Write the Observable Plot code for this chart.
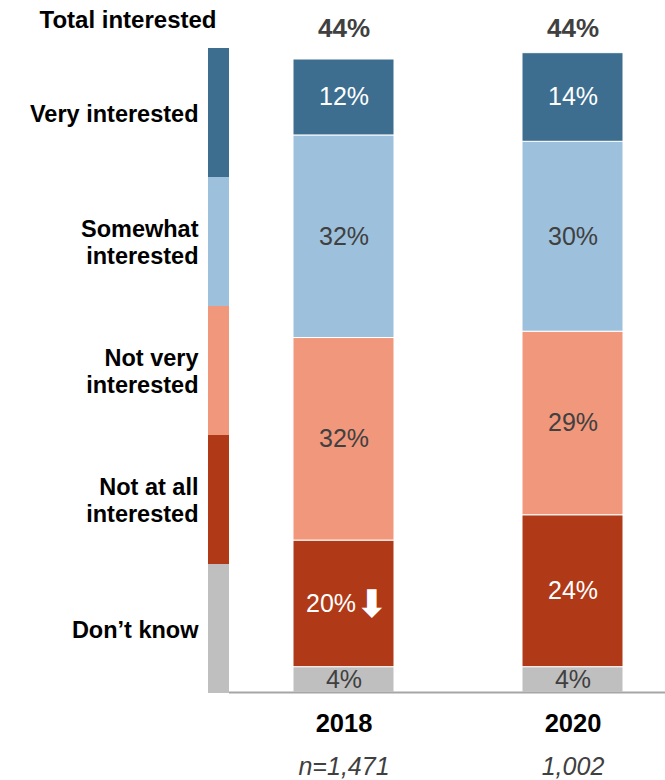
<!DOCTYPE html>
<html>
<head>
<meta charset="utf-8">
<script src="https://cdn.jsdelivr.net/npm/d3@7"></script>
<script src="https://cdn.jsdelivr.net/npm/@observablehq/plot@0.6"></script>
<style>
  html, body { margin: 0; padding: 0; background: white; }
  #wrap { position: relative; width: 665px; height: 780px; }
  #wrap svg { position: absolute; left: 0; top: 0; }
</style>
</head>
<body>
<div id="wrap"></div>
<script>
// ---- data ----
const years = ["2018", "2020"];
const sampleLabels = ["n=1,471", "1,002"];
const totalLabels = ["44%", "44%"];
const categories = ["Very interested", "Somewhat interested", "Not very interested", "Not at all interested", "Don’t know"];
const legendLabels = ["Very interested", "Somewhat\ninterested", "Not very\ninterested", "Not at all\ninterested", "Don’t know"];
const colors = ["#3d6e8f", "#9dc1dc", "#f0977c", "#b03a17", "#bfbfbf"];
const values2018 = [12, 32, 32, 20, 4];
const values2020 = [14, 30, 29, 24, 4];
const whiteLabelCats = ["Very interested", "Not at all interested"];
const sigDown = [{year: "2018", cat: "Not at all interested"}];
const legendTitle = "Total interested";

// ---- build table (bottom of stack first) ----
const valuesByYear = [values2018, values2020];
const stackOrder = [4, 3, 2, 1, 0];
const data = years.flatMap((yr, j) => stackOrder.map(i => ({year: yr, cat: categories[i], value: valuesByYear[j][i]})));
const isSig = d => sigDown.some(s => s.year === d.year && s.cat === d.cat);
const isWhite = d => whiteLabelCats.includes(d.cat);
const totals = years.map((y, i) => ({year: y, label: totalLabels[i], n: sampleLabels[i]}));

const font = "Liberation Sans, Arial, Helvetica, sans-serif";

const main = Plot.plot({
  width: 665,
  height: 780,
  marginLeft: 229,
  marginRight: 0,
  marginTop: 59,
  marginBottom: 88,
  style: {fontFamily: font, background: "white"},
  x: {domain: years, range: [293, 623], paddingInner: 0.559, paddingOuter: 0},
  y: {domain: [0, 100], axis: null},
  color: {domain: categories, range: colors},
  marks: [
    Plot.barY(data, {x: "year", y: "value", fill: "cat", stroke: "white", strokeWidth: 1}),
    Plot.ruleY([0], {stroke: "#a6a6a6", strokeWidth: 2}),
    Plot.text(data, Plot.stackY({x: "year", y: "value", z: "cat",
      text: d => (!isWhite(d) ? d.value + "%" : ""), fill: "#404040", fontSize: 25})),
    Plot.text(data, Plot.stackY({x: "year", y: "value", z: "cat",
      text: d => (isWhite(d) && !isSig(d) ? d.value + "%" : ""), fill: "white", fontSize: 25})),
    Plot.text(data, Plot.stackY({x: "year", y: "value", z: "cat",
      text: d => (isSig(d) ? d.value + "%" : ""), fill: "white", fontSize: 25, dx: -13})),
    Plot.text(data, Plot.stackY({x: "year", y: "value", z: "cat",
      text: d => (isSig(d) ? "⬇" : ""), fill: "white", fontSize: 38, fontWeight: "bold", fontFamily: "DejaVu Sans", dx: 28, dy: 1})),
    Plot.text(totals, {x: "year", text: "label", frameAnchor: "top", lineAnchor: "bottom", dy: -23,
      fontSize: 26, fontWeight: "bold", fill: "#404040"}),
    Plot.axisX({tickSize: 0, tickPadding: 21, fontSize: 25.5, fontWeight: "bold", fill: "black", label: null}),
    Plot.text(totals, {x: "year", text: "n", frameAnchor: "bottom", lineAnchor: "bottom", dy: 82,
      fontSize: 25, fontStyle: "italic", fill: "#404040"})
  ]
});

const legend = Plot.plot({
  width: 230,
  height: 780,
  marginLeft: 208,
  marginRight: 1,
  marginTop: 47,
  marginBottom: 86,
  style: {fontFamily: font, background: "transparent"},
  y: {domain: categories, padding: 0, axis: null},
  color: {domain: categories, range: colors},
  marks: [
    Plot.cell(categories, {y: d => d, fill: d => d, inset: 0}),
    Plot.text(categories, {y: d => d, text: (d, i) => legendLabels[i], frameAnchor: "left", textAnchor: "end",
      dx: -10, lineAnchor: "middle", lineHeight: 1.13, fontSize: 23.5, fontWeight: "bold", fill: "black"}),
    Plot.text([legendTitle], {text: d => d, frameAnchor: "top-right", textAnchor: "end", lineAnchor: "bottom",
      dx: -13, dy: -20, fontSize: 24, fontWeight: "bold", fill: "black"})
  ]
});

const wrap = document.getElementById("wrap");
wrap.appendChild(main);
wrap.appendChild(legend);
</script>
</body>
</html>
